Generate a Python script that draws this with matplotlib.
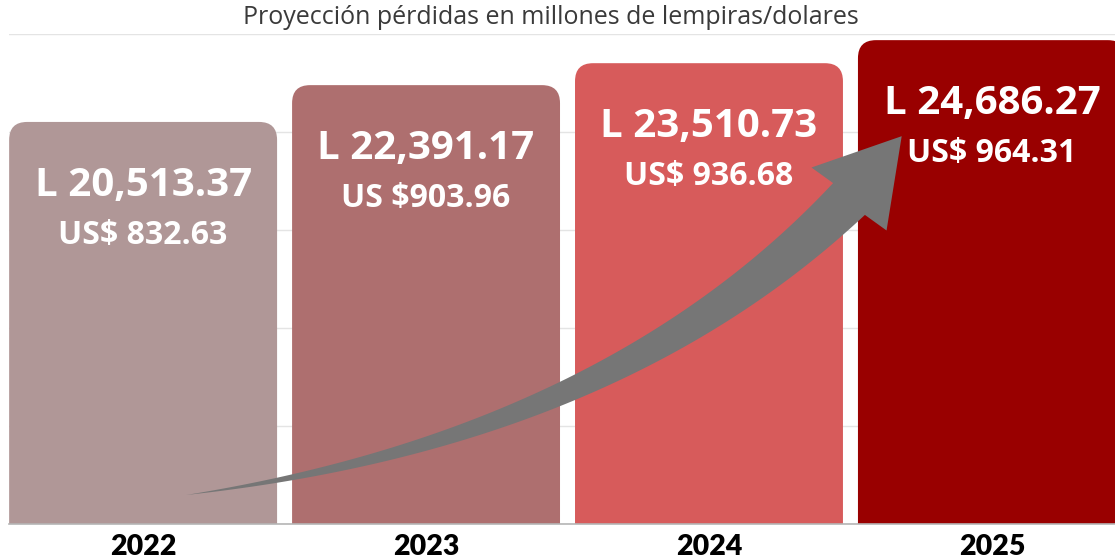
import numpy as np
import matplotlib
matplotlib.use('Agg')
import matplotlib.pyplot as plt
import matplotlib.transforms as mtransforms
from matplotlib.patches import FancyBboxPatch, Polygon

# %% Data
years = ['2022', '2023', '2024', '2025']
lempiras = [20513.37, 22391.17, 23510.73, 24686.27]
lempira_labels = ['L 20,513.37', 'L 22,391.17', 'L 23,510.73', 'L 24,686.27']
dollar_labels = ['US$ 832.63', 'US $903.96', 'US$ 936.68', 'US$ 964.31']
bar_colors = ['#b09797', '#ae6f6f', '#d75b5b', '#990000']

title = 'Proyección pérdidas en millones de lempiras/dolares'

# %% Figure
W, H = 1115, 558
fig = plt.figure(figsize=(W / 100, H / 100), dpi=100)
ax = fig.add_axes([9 / W, 34 / H, 1106 / W, 490 / H])
ax.set_xlim(-0.474, 3.435)
ax.set_ylim(0, 25000)

x = np.arange(len(years))
bars = ax.bar(x, lempiras, width=0.947, color=bar_colors, zorder=2)

# rounded top corners: swap the plain bars for rounded boxes that start below 0
fig.canvas.draw()
px_per_x = ax.transData.transform((1, 0))[0] - ax.transData.transform((0, 0))[0]
px_per_y = (ax.transData.transform((0, 1000))[1] - ax.transData.transform((0, 0))[1]) / 1000
radius_px = 18
rx = radius_px / px_per_x
ry = radius_px / px_per_y
for b, c in zip(bars, bar_colors):
    b.set_visible(False)
    box = FancyBboxPatch((b.get_x(), -ry), b.get_width(), b.get_height() + ry,
                         boxstyle=f'round,pad=0,rounding_size={rx}',
                         mutation_aspect=ry / rx, fc=c, ec='none', zorder=2)
    ax.add_patch(box)

# %% Labels on bars
for b, lt, dt in zip(bars, lempira_labels, dollar_labels):
    cx = b.get_x() + b.get_width() / 2
    top = b.get_height()
    ax.annotate(lt, xy=(cx, top), xytext=(0, -53.5), textcoords='offset points',
                ha='center', va='baseline', color='white', fontsize=29,
                fontweight='bold', family='Open Sans', zorder=5)
    ax.annotate(dt, xy=(cx, top), xytext=(0, -88), textcoords='offset points',
                ha='center', va='baseline', color='white', fontsize=23,
                fontweight='bold', family='Open Sans', zorder=5)

# %% Axes styling
ax.set_yticks(np.arange(0, 25001, 5000))
ax.yaxis.grid(True, color='#e4e4e4', lw=1)
ax.set_axisbelow(True)
ax.tick_params(axis='y', length=0, labelleft=False)
ax.set_xticks(x, years)
ax.tick_params(axis='x', length=0, pad=7, labelsize=20.5)
for lab in ax.get_xticklabels():
    lab.set_fontfamily('Lato')
    lab.set_fontweight('heavy')
    lab.set_color('black')
for s in ['top', 'right', 'left']:
    ax.spines[s].set_visible(False)
ax.spines['bottom'].set_color('#b5b5b5')
ax.spines['bottom'].set_linewidth(1.2)
ax.spines['bottom'].set_zorder(3)

fig.text(551 / W, 1 - 17 / H, title, ha='center', va='center', fontsize=18,
         family='Open Sans', color='#3a3a3a')

# %% Curved growth arrow (figure pixel coordinates, y downwards)
to_fig = mtransforms.Affine2D().scale(1 / W, -1 / H).translate(0, 1) + fig.transFigure
p0 = np.array([186.0, 495.0])
p1 = np.array([610.0, 438.0])
p2 = np.array([849.0, 199.0])
t = np.linspace(0, 1, 120)[:, None]
curve = (1 - t) ** 2 * p0 + 2 * t * (1 - t) * p1 + t ** 2 * p2
deriv = 2 * (1 - t) * (p1 - p0) + 2 * t * (p2 - p1)
deriv /= np.linalg.norm(deriv, axis=1)[:, None]
normal = np.column_stack([-deriv[:, 1], deriv[:, 0]])
half = 22.5 * t
left = curve + normal * half
right = curve - normal * half

d_head = np.array([52.0, -62.0])
d_head /= np.linalg.norm(d_head)
n_head = np.array([-d_head[1], d_head[0]])
tip = p2 + 82 * d_head
barb_l = p2 + 49 * n_head
barb_r = p2 - 49 * n_head

outline = np.vstack([left, barb_l, tip, barb_r, right[::-1]])
arrow = Polygon(outline, closed=True, fc='#767676', ec='none',
                transform=to_fig, clip_on=False, zorder=4)
ax.add_patch(arrow)

# %% Save
fig.savefig('out.png', dpi=100)
